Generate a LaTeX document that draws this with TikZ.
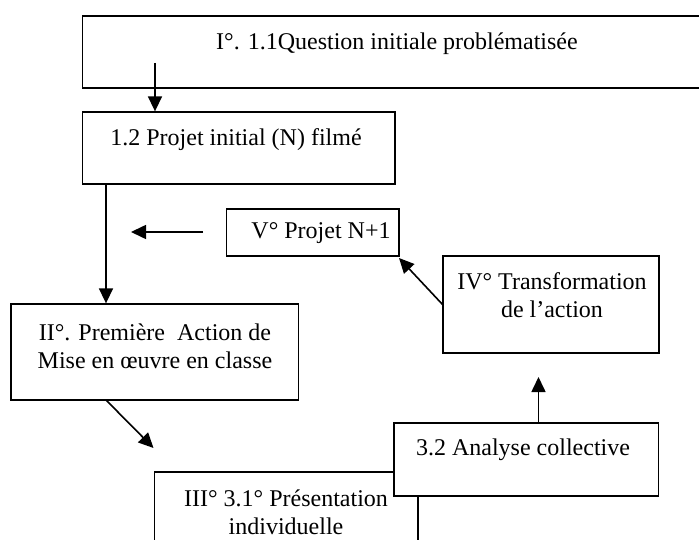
\documentclass[tikz,border=0pt]{standalone}
\usepackage{fontspec}
\setmainfont{Liberation Serif}
\usetikzlibrary{arrows.meta}
\begin{document}
\begin{tikzpicture}[x=1pt,y=-1pt,
  boxstyle/.style={draw=black,line width=1.3pt,fill=white,rectangle,inner sep=0pt},
  txt/.style={font=\fontsize{24}{28}\selectfont,align=center,inner sep=0pt},
  arr/.style={line width=1.6pt,-{Triangle[length=15pt,width=14pt]}}]
\clip (0,0) rectangle (699,540);
\fill[white] (0,0) rectangle (699,540);
% boxes
\node[boxstyle,minimum width=623.5pt,minimum height=72pt] (bI) at (394.25,52) {};
\node[txt] (tI) at (397,44) {I°. 1.1Question initiale problématisée};
\node[boxstyle,minimum width=312.5pt,minimum height=72pt] (b12) at (238.75,148) {};
\node[txt] (t12) at (236,140) {1.2 Projet initial (N) filmé};
\node[boxstyle,minimum width=172.3pt,minimum height=47pt] (bV) at (312.9,232.5) {};
\node[txt] (tV) at (321,233) {V° Projet N+1};
\node[boxstyle,minimum width=216pt,minimum height=97pt] (bIV) at (551,304.5) {};
\node[txt] (tIV) at (552,295) {IV° Transformation\\de l’action};
\node[boxstyle,minimum width=287.5pt,minimum height=96pt] (bII) at (154.75,352) {};
\node[txt] (tII) at (155,346) {II°. Première~ Action de\\Mise en œuvre en classe};
\node[boxstyle,minimum width=263.4pt,minimum height=100pt] (bIII) at (286.3,522) {};
\node[txt] (tIII) at (286,512) {III° 3.1° Présentation\\individuelle};
\node[boxstyle,minimum width=264.5pt,minimum height=73pt] (b32) at (526.25,459.5) {};
\node[txt] (t32) at (523,450) {3.2 Analyse collective};
% arrows
\coordinate (s1) at (155,63);
\draw[arr] (s1) -- (b12.north -| s1);
\coordinate (s2) at (106,184);
\draw[arr] (s2) -- (bII.north -| s2);
\coordinate (s3) at (203,232);
\coordinate (e3) at (131,232);
\draw[arr] (s3) -- (e3);
\coordinate (s4) at (443,305);
\coordinate (e4) at (399,258);
\draw[arr] (s4) -- (e4);
\coordinate (s5) at (106,400);
\coordinate (e5) at (153.5,448);
\draw[arr] (s5) -- (e5);
\coordinate (s6) at (538.5,423);
\coordinate (e6) at (538.5,377);
\draw[arr] (s6) -- (e6);
\end{tikzpicture}
\end{document}
